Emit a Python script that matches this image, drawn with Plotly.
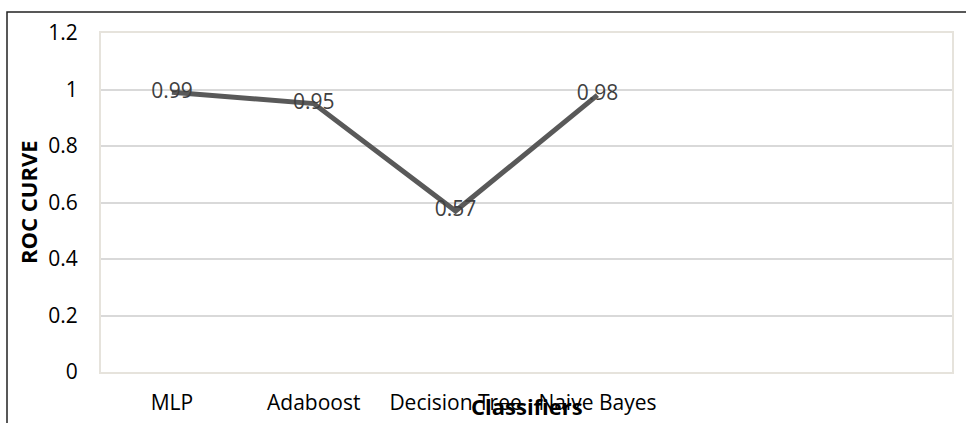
import plotly.graph_objects as go

# Classifier comparison by area under the ROC curve
classifiers = ["MLP", "Adaboost", "Decision Tree", "Naive Bayes"]
roc_values = [0.99, 0.95, 0.57, 0.98]
y_ticks = [0, 0.2, 0.4, 0.6, 0.8, 1.0, 1.2]
y_tick_text = ["0", "0.2", "0.4", "0.6", "0.8", "1", "1.2"]
n_slots = 6  # category axis keeps two empty slots on the right

positions = list(range(len(classifiers)))

FONT = "Open Sans, Noto Sans, sans-serif"

fig = go.Figure()
fig.add_trace(go.Scatter(
    x=positions,
    y=roc_values,
    mode="lines+text",
    line=dict(color="#595959", width=5),
    text=[f"{v:g}" for v in roc_values],
    textposition="middle center",
    textfont=dict(family=FONT, size=21, color="#404040"),
    hoverinfo="skip",
    showlegend=False,
))

fig.update_layout(
    width=966,
    height=423,
    margin=dict(l=101, r=14, t=33, b=51, autoexpand=False),
    paper_bgcolor="white",
    plot_bgcolor="white",
    font=dict(family=FONT, size=21, color="#000000"),
    xaxis=dict(
        range=[-0.5, n_slots - 0.5],
        tickvals=positions,
        ticktext=classifiers,
        showgrid=False,
        zeroline=False,
        showline=True,
        linecolor="#e6e3dc",
        linewidth=2,
        mirror=True,
        ticks="",
        ticklabelstandoff=11,
        automargin=False,
        tickfont=dict(family=FONT, size=21, color="#000000"),
        fixedrange=True,
    ),
    yaxis=dict(
        range=[0, 1.2],
        tickvals=y_ticks,
        ticktext=y_tick_text,
        showgrid=True,
        gridcolor="#d9d9d9",
        gridwidth=1.5,
        zeroline=False,
        showline=True,
        linecolor="#e6e3dc",
        linewidth=2,
        mirror=True,
        ticks="",
        ticklabelstandoff=17,
        automargin=False,
        tickfont=dict(family=FONT, size=21, color="#000000"),
        fixedrange=True,
    ),
    annotations=[
        dict(
            text="<b>Classifiers</b>",
            xref="paper", yref="paper",
            x=0.5, y=(372 - 406) / 339,
            xanchor="center", yanchor="middle",
            showarrow=False,
            font=dict(family=FONT, size=22, color="#000000"),
        ),
        dict(
            text="<b>ROC CURVE</b>",
            xref="paper", yref="paper",
            x=(28 - 101) / 851, y=(372 - 202) / 339,
            xanchor="center", yanchor="middle",
            textangle=-90,
            showarrow=False,
            font=dict(family=FONT, size=22, color="#000000"),
        ),
    ],
    shapes=[
        # outer chart frame (top and left edges)
        dict(
            type="path",
            xref="paper", yref="paper",
            path=f"M {(7 - 101) / 851} {(372 - 430) / 339} "
                 f"L {(7 - 101) / 851} {(372 - 12) / 339} "
                 f"L {(975 - 101) / 851} {(372 - 12) / 339}",
            line=dict(color="#222222", width=1.5),
        ),
    ],
)

fig.write_html("out.html")
